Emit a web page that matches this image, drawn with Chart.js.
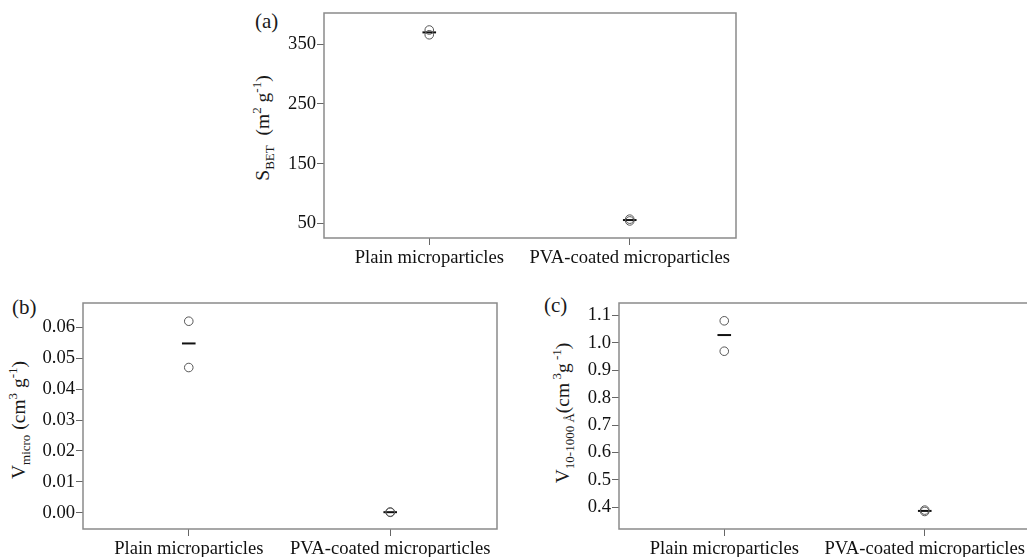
<!DOCTYPE html>
<html>
<head>
<meta charset="utf-8">
<script src="https://cdn.jsdelivr.net/npm/chart.js@4.4.1/dist/chart.umd.min.js"></script>
<style>
  html, body { margin: 0; padding: 0; background: #fff; }
  body { width: 1027px; height: 557px; overflow: hidden; position: relative; font-family: "Liberation Serif", "DejaVu Serif", serif; color: #1a1a1a; }
  canvas { position: absolute; }
  .panel { position: absolute; font-size: 21px; line-height: 1; transform: translateY(-50%); }
  .ytitle { position: absolute; font-size: 19.5px; white-space: nowrap; line-height: 1; transform: translate(-50%, -50%) rotate(-90deg); }
  .ytitle sub, .ytitle sup { font-size: 13px; }
</style>
</head>
<body>
<div class="panel" style="left:255px; top:21px;">(a)</div>
<div class="panel" style="left:12px; top:307px;">(b)</div>
<div class="panel" style="left:544px; top:305px;">(c)</div>

<div class="ytitle" style="left:263px; top:128px;">S<sub>BET</sub>&nbsp;&nbsp;(m<sup>2</sup> g<sup>-1</sup>)</div>
<div class="ytitle" style="left:19px; top:420px;">V<sub>micro</sub> (cm<sup>3</sup> g<sup>-1</sup>)</div>
<div class="ytitle" style="left:563px; top:413px;">V<sub>10-1000 Å</sub>(cm<sup> 3</sup>g<sup> -1</sup>)</div>

<canvas id="chartA" width="540" height="280" style="left:220px; top:0px;"></canvas>
<canvas id="chartB" width="520" height="267" style="left:0px; top:290px;"></canvas>
<canvas id="chartC" width="500" height="267" style="left:540px; top:290px;"></canvas>

<script>
// categories (x positions 0 and 1)
const categories = ["Plain microparticles", "PVA-coated microparticles"];

// (a) S_BET, m2/g
const sbetPlain = [374, 366];
const sbetPva = [57, 54];
const sbetMean = [370, 55.5];
const sbetTicks = [50, 150, 250, 350];

// (b) V_micro, cm3/g
const vmicroPlain = [0.062, 0.047];
const vmicroPva = [0.0002, 0.0001];
const vmicroMean = [0.0548, 0.00015];
const vmicroTicks = [0.00, 0.01, 0.02, 0.03, 0.04, 0.05, 0.06];

// (c) V_10-1000 A, cm3/g
const vmesoPlain = [1.081, 0.970];
const vmesoPva = [0.390, 0.385];
const vmesoMean = [1.029, 0.387];
const vmesoTicks = [0.4, 0.5, 0.6, 0.7, 0.8, 0.9, 1.0, 1.1];

// cadre gris autour de la zone du graphique
const framePlugin = {
    id: "frame",
    afterDraw(chart) {
        const a = chart.chartArea;
        const ctx = chart.ctx;
        ctx.save();
        ctx.strokeStyle = "#8a8a8a";
        ctx.lineWidth = 1.5;
        ctx.strokeRect(a.left, a.top, a.right - a.left, a.bottom - a.top);
        ctx.restore();
    }
};

function makeChart(id, plain, pva, mean, yTicks, yMin, yMax, fmt, box) {
    const points = [];
    plain.forEach(v => points.push({ x: 0, y: v }));
    pva.forEach(v => points.push({ x: 1, y: v }));
    const means = mean.map((v, i) => ({ x: i, y: v }));

    return new Chart(document.getElementById(id), {
        type: "scatter",
        data: {
            datasets: [
                {
                    data: points,
                    pointStyle: "circle",
                    pointRadius: 4.3,
                    pointBorderColor: "#555",
                    pointBackgroundColor: "rgba(255,255,255,0)",
                    pointBorderWidth: 1
                },
                {
                    data: means,
                    pointStyle: "line",
                    pointRadius: 6.8,
                    pointBorderColor: "#111",
                    pointBorderWidth: 2
                }
            ]
        },
        options: {
            responsive: false,
            animation: false,
            layout: { padding: { top: box.top, right: box.right, left: 0, bottom: 0 } },
            plugins: { legend: { display: false }, tooltip: { enabled: false } },
            scales: {
                x: {
                    type: "linear",
                    min: -0.525,
                    max: 1.53,
                    afterBuildTicks: axis => { axis.ticks = categories.map((c, i) => ({ value: i })); },
                    afterFit: axis => { axis.height = box.xh; },
                    border: { display: false },
                    grid: { drawOnChartArea: false, tickLength: 7, color: "#666", lineWidth: 1 },
                    ticks: {
                        autoSkip: false,
                        maxRotation: 0,
                        padding: 2,
                        color: "#111",
                        font: { family: "Liberation Serif", size: 18.6 },
                        callback: v => categories[v]
                    }
                },
                y: {
                    min: yMin,
                    max: yMax,
                    afterBuildTicks: axis => { axis.ticks = yTicks.map(v => ({ value: v })); },
                    afterFit: axis => { axis.width = box.yw; },
                    border: { display: false },
                    grid: { drawOnChartArea: false, tickLength: 7, color: "#666", lineWidth: 1 },
                    ticks: {
                        padding: 1,
                        color: "#111",
                        font: { family: "Liberation Serif", size: 18.6 },
                        callback: v => fmt(v)
                    }
                }
            }
        },
        plugins: [framePlugin]
    });
}

makeChart("chartA", sbetPlain, sbetPva, sbetMean, sbetTicks, 25.4, 402.5,
    v => String(v), { top: 13, right: 24, xh: 42, yw: 104 });
makeChart("chartB", vmicroPlain, vmicroPva, vmicroMean, vmicroTicks, -0.0053, 0.0679,
    v => v.toFixed(2), { top: 13, right: 23, xh: 28, yw: 83 });
makeChart("chartC", vmesoPlain, vmesoPva, vmesoMean, vmesoTicks, 0.321, 1.146,
    v => v.toFixed(1), { top: 13, right: 9, xh: 28, yw: 79 });
</script>
</body>
</html>
